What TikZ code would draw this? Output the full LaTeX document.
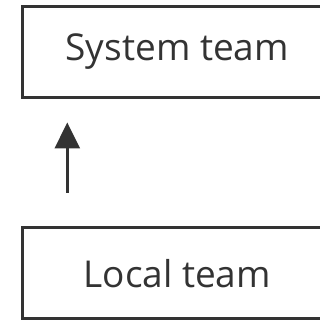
\documentclass[tikz,border=0pt]{standalone}
\usepackage{fontspec}
\setmainfont{Open Sans}
\usetikzlibrary{positioning,arrows.meta}
\definecolor{ink}{RGB}{51,51,51}

\begin{document}
\begin{tikzpicture}[x=1pt,y=1pt,%
  team/.style={draw=ink,line width=3pt,text=ink,minimum width=309.5pt,minimum height=91pt,inner sep=0pt,outer sep=0pt,font=\fontsize{37}{44}\selectfont},%
  arr/.style={-{Triangle[length=26pt,width=25pt]},draw=ink,line width=3pt}%
  ]
  \useasboundingbox (0,0) rectangle (320,321);
  \node[team] (system) at (177.25,269) {System team};
  \node[team] (local) [below=130.5pt of system] {Local team};
%
  \coordinate (tail) at ([xshift=44.8pt,yshift=35pt]local.north west);
  \coordinate (tip)  at ([xshift=44.8pt,yshift=-25pt]system.south west);
  \draw[arr] (tail) -- (tip);
%
\end{tikzpicture}
\end{document}
